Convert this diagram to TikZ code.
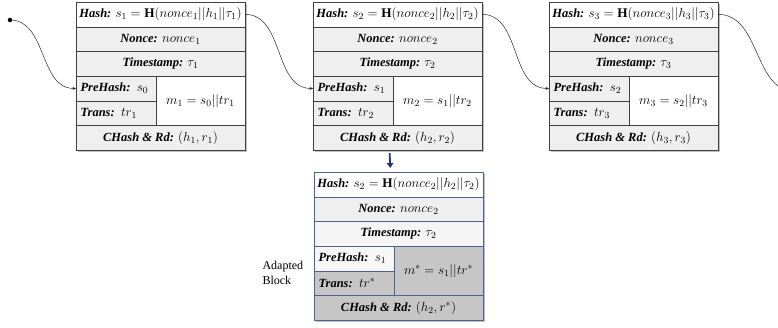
\RequirePackage{fix-cm}
\documentclass[tikz,border=0pt]{standalone}
\usepackage{fontspec}
\setmainfont{Liberation Serif}
\usepackage{amsmath}
\usepackage{xcolor}
\usepackage{tikz}
\usetikzlibrary{arrows.meta, positioning, backgrounds}

\DeclareMathSizes{12.5}{13.2}{9.4}{7.5}

\definecolor{cellgray}{HTML}{EFEFEF}
\definecolor{darkcell}{HTML}{C6C6C6}
\definecolor{bluefrm}{HTML}{4A6298}
\definecolor{navy}{HTML}{1F3C78}

\newcommand{\lb}[1]{\textbf{\textit{#1}}}

\begin{document}
\begin{tikzpicture}[x=1pt, y=-1pt, font=\fontsize{12.5}{15}\selectfont,
  >={Stealth[length=3.5pt, width=3pt]},
  row/.style={draw=black!75, fill=cellgray, minimum width=169pt, minimum height=24.7pt,
              inner sep=0pt, outer sep=0pt},
  half/.style={row, minimum width=80pt, text width=71pt, align=left},
  mcell/.style={row, minimum width=89pt, minimum height=49.4pt, fill=white},
  link/.style={->, black!85, line width=0.5pt}]
  \useasboundingbox (0,0) rectangle (778,327);

  % the chain of three blocks
  \foreach \i/\x in {1/76, 2/313, 3/549} {
    \pgfmathtruncatemacro{\j}{\i-1}
    \node[row, fill=white, anchor=north west] (h\i) at (\x,2)
      {\lb{Hash:} $s_\i=\mathbf{H}(nonce_\i||h_\i||\tau_\i)$};
    \node[row, below=0pt of h\i] (n\i) {\lb{Nonce:} $nonce_\i$};
    \node[row, below=0pt of n\i] (t\i) {\lb{Timestamp:} $\tau_\i$};
    \node[half, anchor=north west] (p\i) at (t\i.south west) {\lb{PreHash:} $s_\j$};
    \node[half, below=0pt of p\i] (tr\i) {\lb{Trans:} $tr_\i$};
    \node[mcell, anchor=north west] (m\i) at (p\i.north east) {$m_\i=s_\j||tr_\i$};
    \node[row, anchor=north west] (c\i) at (tr\i.south west) {\lb{CHash \& Rd:} $(h_\i,r_\i)$};
    \begin{scope}[on background layer]
      \fill[black!25] ([shift={(2,2)}]h\i.north west) rectangle ([shift={(2,2)}]c\i.south east);
    \end{scope}
  }

  % adapted block
  \begin{scope}[row/.append style={draw=bluefrm}]
    \node[row, fill=white, anchor=north west] (ha) at (314,172)
      {\lb{Hash:} $s_2=\mathbf{H}(nonce_2||h_2||\tau_2)$};
    \node[row, below=0pt of ha] (na) {\lb{Nonce:} $nonce_2$};
    \node[row, fill=black!4, below=0pt of na] (ta) {\lb{Timestamp:} $\tau_2$};
    \node[half, fill=black!3, anchor=north west] (pa) at (ta.south west) {\lb{PreHash:} $s_1$};
    \node[half, fill=darkcell, below=0pt of pa] (tra) {\lb{Trans:} $tr^*$};
    \node[mcell, fill=darkcell, anchor=north west] (ma) at (pa.north east) {$m^*=s_1||tr^*$};
    \node[row, fill=darkcell, anchor=north west] (ca) at (tra.south west) {\lb{CHash \& Rd:} $(h_2,r^*)$};
  \end{scope}
  \begin{scope}[on background layer]
    \fill[black!25] ([shift={(2,2)}]ha.north west) rectangle ([shift={(2,2)}]ca.south east);
  \end{scope}
  \node[align=left, anchor=west, font=\fontsize{12}{14.5}\selectfont] (lbl) at (259,273) {Adapted\\Block};

  % links
  \node[circle, fill=black, inner sep=0pt, minimum size=4.5pt] (start) at (10,20) {};
  \coordinate (tail) at (796,92);
  \draw[link] (start.center) to[out=0, in=180] (p1.west);
  \draw[link] (h1.east) to[out=0, in=180] (p2.west);
  \draw[link] (h2.east) to[out=0, in=180] (p3.west);
  \draw[link, -] (h3.east) to[out=0, in=180] (tail);
  \draw[-{Triangle[length=5pt, width=6.5pt]}, navy, line width=1.8pt, shorten <=3pt, shorten >=4pt]
    ([xshift=-8pt]c2.south) -- ([xshift=-8pt]ha.north);
\end{tikzpicture}
\end{document}
